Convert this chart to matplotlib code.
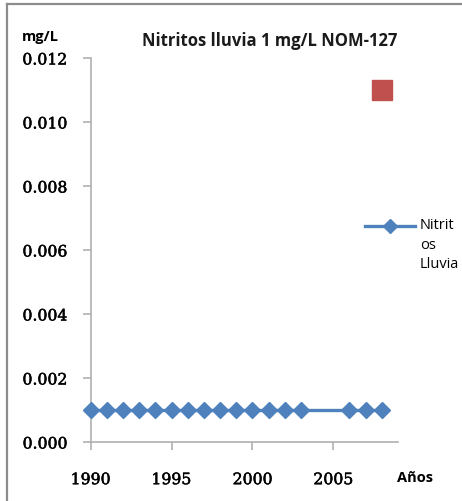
import matplotlib
matplotlib.use("Agg")
import matplotlib.pyplot as plt
from matplotlib.lines import Line2D
import matplotlib.patheffects as pe

# Nitrite in rain, mg/L
years = [1990, 1991, 1992, 1993, 1994, 1995, 1996, 1997, 1998, 1999,
         2000, 2001, 2002, 2003, 2006, 2007, 2008]
nitritos = [0.001] * len(years)

# NOM-127 reference point
nom_year = [2008]
nom_value = [0.011]

y_ticks = [0.000, 0.002, 0.004, 0.006, 0.008, 0.010, 0.012]
x_ticks = [1990, 1995, 2000, 2005]

W, H = 462, 501
fig = plt.figure(figsize=(W / 100, H / 100), dpi=100)
fig.patch.set_facecolor("white")

ax = fig.add_axes([90.7 / W, 1 - 442 / H, (398 - 90.7) / W, (442 - 58) / H])

blue = "#4F81BD"
red = "#C0504D"
ax.plot(years, nitritos, color=blue, lw=2.4, marker="D", ms=7.8,
        markeredgecolor=blue, markerfacecolor=blue, clip_on=False,
        label="Nitrit\nos\nLluvia", zorder=3)
ax.plot(nom_year, nom_value, linestyle="none", marker="s", ms=14.2,
        color=red, markeredgecolor=red, clip_on=False, zorder=3)

ax.set_xlim(1990, 2009)
ax.set_ylim(0, 0.012)
ax.set_xticks(x_ticks)
ax.set_yticks(y_ticks)
ax.set_yticklabels([f"{v:.3f}" for v in y_ticks])

for s in ("top", "right"):
    ax.spines[s].set_visible(False)
for s in ("left", "bottom"):
    ax.spines[s].set_color("#B0B0B0")
    ax.spines[s].set_linewidth(1.2)

ax.tick_params(axis="both", colors="#B0B0B0", width=1.2, length=6,
               direction="out", labelcolor="black")
ax.tick_params(axis="y", pad=11)
ax.tick_params(axis="x", pad=15)
thick = [pe.withStroke(linewidth=0.35, foreground="black")]
for lbl in ax.get_yticklabels() + ax.get_xticklabels():
    lbl.set_fontfamily("DejaVu Serif")
    lbl.set_fontsize(11.3)
    lbl.set_color("black")
    lbl.set_path_effects(thick)

fig.text(270 / W, 1 - 41 / H, "Nitritos lluvia 1 mg/L NOM-127",
         ha="center", va="center", fontsize=12, family="Open Sans",
         fontweight="bold", color="#1a1a1a")
fig.text(22 / W, 1 - 37 / H, "mg/L", ha="left", va="center",
         fontsize=10.5, family="Open Sans", fontweight="bold")
fig.text(415 / W, 1 - 478 / H, "Años", ha="center", va="center",
         fontsize=10.5, family="Open Sans", fontweight="bold")

# legend drawn by hand at the right side
fig.add_artist(Line2D([365 / W, 415 / W], [1 - 226 / H, 1 - 226 / H],
                      color=blue, lw=2.4, transform=fig.transFigure))
fig.add_artist(Line2D([390 / W], [1 - 226 / H], marker="D", ms=7.0,
                      color=blue, transform=fig.transFigure))
for i, t in enumerate(["Nitrit", "os", "Lluvia"]):
    fig.text(420 / W, 1 - (226 + 19.5 * i) / H, t, ha="left", va="center",
             fontsize=10.5, family="Open Sans")

# outer frame
fig.add_artist(Line2D([7.5 / W, 7.5 / W], [0, 1 - 3.5 / H], color="#8C8C8C",
                      lw=1.6, transform=fig.transFigure))
fig.add_artist(Line2D([7.5 / W, 1], [1 - 3.5 / H, 1 - 3.5 / H], color="#8C8C8C",
                      lw=1.6, transform=fig.transFigure))

fig.savefig("out.png", dpi=100)
